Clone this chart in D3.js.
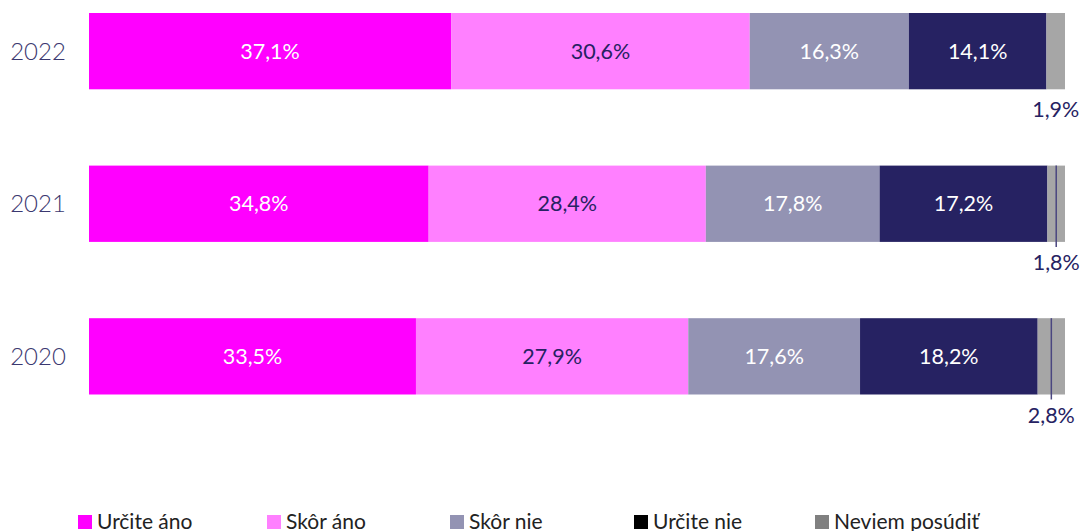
<!DOCTYPE html>
<html>
<head>
<meta charset="utf-8">
<script src="https://cdn.jsdelivr.net/npm/d3@7"></script>
<style>
	body { margin: 0; background: #fff; }
	svg text { font-family: Lato, "Open Sans", sans-serif; }
</style>
</head>
<body>
<svg id="chart" width="1082" height="531"></svg>
<script>
// chart data
var years = ['2022', '2021', '2020'];
var categories = ['Určite áno', 'Skôr áno', 'Skôr nie', 'Určite nie', 'Neviem posúdiť'];
var urciteAno = [37.1, 34.8, 33.5];
var skorAno = [30.6, 28.4, 27.9];
var skorNie = [16.3, 17.8, 17.6];
var urciteNie = [14.1, 17.2, 18.2];
var neviem = [1.9, 1.8, 2.8];

var barColors = ['#ff00ff', '#ff80ff', '#9393b3', '#262262', '#a6a6a6'];
var legendColors = ['#ff00ff', '#ff80ff', '#9393b3', '#000000', '#808080'];
var labelColors = ['#ffffff', '#262262', '#ffffff', '#ffffff', '#262262'];

var svg = d3.select('#chart');

var x = d3.scaleLinear().domain([0, 100]).range([89, 1065]);
var y = d3.scaleBand().domain(years).range([13, 394.5]).paddingInner(0.5).paddingOuter(0);

// build stacked rows
var rows = years.map(function(yr, i){
	var row = { year: yr };
	row[categories[0]] = urciteAno[i];
	row[categories[1]] = skorAno[i];
	row[categories[2]] = skorNie[i];
	row[categories[3]] = urciteNie[i];
	row[categories[4]] = neviem[i];
	return row;
});
var stacked = d3.stack().keys(categories)(rows);

var fmt = function(v){ return v.toFixed(1).replace('.', ','); };

var layers = svg.append('g')
	.attr('id', 'bars')
	.selectAll('g')
	.data(stacked)
	.enter()
	.append('g')
	.attr('fill', function(d, i) { return barColors[i]; });

layers.selectAll('rect')
	.data(function(d) { return d; })
	.enter()
	.append('rect')
	.attr('x', function(d) { return x(d[0]); })
	.attr('y', function(d) { return y(d.data.year); })
	.attr('width', function(d) { return x(d[1]) - x(d[0]); })
	.attr('height', y.bandwidth());

// labels inside the big segments
stacked.slice(0, 4).forEach(function(layer, k){
	svg.append('g')
		.selectAll('text')
		.data(layer)
		.enter()
		.append('text')
		.attr('x', function(d) { return (x(d[0]) + x(d[1])) / 2; })
		.attr('y', function(d) { return y(d.data.year) + y.bandwidth() / 2 + 7.5; })
		.attr('text-anchor', 'middle')
		.attr('font-size', 21.5)
		.attr('fill', labelColors[k])
		.text(function(d) { return fmt(d[1] - d[0]) + '%'; });
});

// small segment: label below the bar, leader line for 2021/2020
var last = stacked[4];
svg.append('g')
	.selectAll('line')
	.data(last.filter(function(d) { return d.data.year != '2022'; }))
	.enter()
	.append('line')
	.attr('x1', function(d) { return (x(d[0]) + x(d[1])) / 2; })
	.attr('x2', function(d) { return (x(d[0]) + x(d[1])) / 2; })
	.attr('y1', function(d) { return y(d.data.year); })
	.attr('y2', function(d) { return y(d.data.year) + y.bandwidth() + 5; })
	.attr('stroke', '#4a4680')
	.attr('stroke-width', 1.5);

svg.append('g')
	.selectAll('text')
	.data(last)
	.enter()
	.append('text')
	.attr('x', function(d) { return (x(d[0]) + x(d[1])) / 2; })
	.attr('y', function(d) { return y(d.data.year) + y.bandwidth() + 28; })
	.attr('text-anchor', 'middle')
	.attr('font-size', 21.5)
	.attr('fill', labelColors[4])
	.text(function(d) { return fmt(d[1] - d[0]) + '%'; });

// year labels
svg.append('g')
	.selectAll('text')
	.data(years)
	.enter()
	.append('text')
	.attr('x', 38)
	.attr('y', function(d) { return y(d) + y.bandwidth() / 2 + 8.5; })
	.attr('text-anchor', 'middle')
	.attr('font-size', 24)
	.attr('font-weight', 300)
	.attr('fill', '#3b3870')
	.text(function(d) { return d; });

// legend
var legendX = [78, 267, 450, 634, 815];
var legend = svg.append('g')
	.attr('id', 'legend')
	.selectAll('g')
	.data(categories)
	.enter()
	.append('g')
	.attr('transform', function(d, i) { return 'translate(' + legendX[i] + ',515)'; });
legend.append('rect')
	.attr('width', 14)
	.attr('height', 14)
	.attr('fill', function(d, i) { return legendColors[i]; });
legend.append('text')
	.attr('x', 19)
	.attr('y', 14)
	.attr('font-family', '"Noto Sans", "Open Sans", sans-serif')
	.attr('font-size', 21)
	.attr('fill', '#222')
	.text(function(d) { return d; });
</script>
</body>
</html>
